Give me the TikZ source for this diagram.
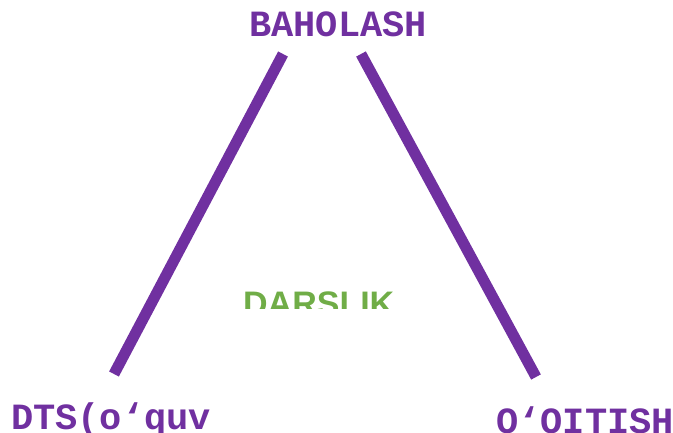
\documentclass[tikz,border=0pt]{standalone}
\usepackage{fontspec}
\newfontfamily\monobold{Liberation Mono}[BoldFont={Liberation Mono Bold}]
\newfontfamily\sansbold{Liberation Sans}[BoldFont={Liberation Sans Bold}]
\usepackage{xcolor}
\definecolor{plum}{HTML}{7030A0}
\definecolor{leaf}{HTML}{70AD47}
\tikzset{
  corner/.style={anchor=base west,inner sep=0pt,text=plum,
    font=\monobold\bfseries\fontsize{37}{37}\selectfont},
  centre/.style={anchor=base west,inner sep=0pt,text=leaf,
    font=\sansbold\bfseries\fontsize{34}{34}\selectfont},
  side/.style={draw=plum,line width=11pt}
}
\begin{document}
\begin{tikzpicture}[x=1pt,y=-1pt]
  \useasboundingbox (0,0) rectangle (673,433);
  \clip (0,0) rectangle (673,433);
  \node[corner] (top) at (249,37) {BAHOLASH};
  \node[corner] (left) at (11,429) {DTS(o‘quv};
  \node[corner] (right) at (496,433) {O‘OITISH};
  \begin{scope}
    \clip (0,0) rectangle (673,309);
    \node[centre] (mid) at (243,316) {DARSLIK};
  \end{scope}
  \coordinate (a1) at (283,54);
  \coordinate (a2) at (114,374);
  \coordinate (b1) at (361,54);
  \coordinate (b2) at (536,377);
  \draw[side] (a1) -- (a2);
  \draw[side] (b1) -- (b2);
\end{tikzpicture}
\end{document}
